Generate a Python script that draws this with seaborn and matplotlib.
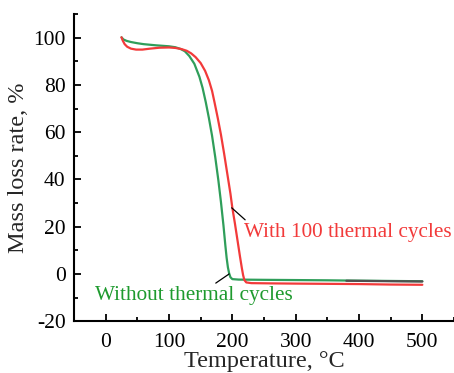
import numpy as np
import pandas as pd
import matplotlib.pyplot as plt
import seaborn as sns
from matplotlib.ticker import MultipleLocator

# Temperature (°C) and mass (%)
temp_plain = [25, 28, 33, 40, 50, 60, 80, 100, 110, 118, 125, 132, 140, 148, 153, 158, 163, 168,
              173, 178, 182, 186, 189, 191, 193, 195, 197, 200, 210, 250, 300, 350, 380, 420, 460, 500]
mass_plain = [100.2, 99.3, 98.7, 98.2, 97.7, 97.3, 96.8, 96.4, 96.0, 95.3, 94.3, 92.3, 89.0, 83.5, 78.8, 72.8, 66.0, 58.5,
              49.5, 39.5, 30.5, 20.5, 12.0, 6.8, 2.8, 0.2, -1.4, -2.2, -2.4, -2.5, -2.6, -2.7, -2.8, -2.9, -3.0, -3.1]

temp_cycled = [25, 27, 30, 34, 40, 48, 58, 70, 85, 100, 110, 120, 128, 135, 142, 150, 157, 163,
               168, 172, 177, 182, 187, 192, 197, 200, 204, 208, 212, 215, 217, 219, 222, 230, 260,
               300, 350, 400, 450, 500]
mass_cycled = [100.2, 98.8, 97.3, 96.2, 95.4, 95.0, 95.0, 95.4, 95.8, 95.9, 95.7, 95.2, 94.5, 93.4, 91.8, 89.3, 86.0, 82.0,
               77.5, 72.5, 66.0, 59.0, 51.0, 42.5, 34.0, 28.0, 21.5, 14.5, 7.5, 2.5, -0.5, -2.6, -3.6, -3.9, -4.0,
               -4.1, -4.2, -4.3, -4.5, -4.6]

# dark trace showing at the tail of the green curve
temp_tail = [380, 420, 460, 500]
mass_tail = [-2.9, -3.0, -3.1, -3.2]

green = '#2f9e5a'
red = '#f23a3a'

sns.set_style('ticks')
plt.rcParams['font.family'] = ['Liberation Serif', 'DejaVu Serif']
plt.rcParams['axes.unicode_minus'] = False

fig = plt.figure(figsize=(4.54, 3.73), dpi=100)
ax = fig.add_axes([0.163, 0.139, 0.837, 0.823])

df_plain = pd.DataFrame({'T': temp_plain, 'm': mass_plain})
df_cycled = pd.DataFrame({'T': temp_cycled, 'm': mass_cycled})
df_tail = pd.DataFrame({'T': temp_tail, 'm': mass_tail})

sns.lineplot(data=df_plain, x='T', y='m', color=green, lw=1.6, ax=ax)
sns.lineplot(data=df_tail, x='T', y='m', color='#505050', lw=1.6, ax=ax)
sns.lineplot(data=df_cycled, x='T', y='m', color=red, lw=1.6, ax=ax)

ax.set_xlim(-50, 550)
ax.set_ylim(-20, 110)
ax.xaxis.set_major_locator(MultipleLocator(100))
ax.xaxis.set_minor_locator(MultipleLocator(50))
ax.yaxis.set_major_locator(MultipleLocator(20))
ax.yaxis.set_minor_locator(MultipleLocator(10))
ax.tick_params(which='both', direction='in', width=1.3, colors='black', labelsize=15.5)
ax.tick_params(which='major', length=5)
ax.tick_params(which='minor', length=3)
ax.tick_params(axis='x', pad=8.5)
ax.tick_params(axis='y', pad=6)

for s in ['top', 'right']:
    ax.spines[s].set_visible(False)
for s in ['left', 'bottom']:
    ax.spines[s].set_linewidth(1.5)
    ax.spines[s].set_color('black')

ax.set_xlabel('Temperature, °C', fontsize=17.5, labelpad=-0.5)
ax.set_ylabel('Mass loss rate, %', fontsize=17.5, labelpad=3)

ax.annotate('With 100 thermal cycles', xy=(199, 28), xytext=(218, 17.5),
            color=red, fontsize=15.3, va='center', ha='left',
            arrowprops=dict(arrowstyle='-', color='black', lw=0.9, shrinkA=0, shrinkB=0,
                            relpos=(0.05, 0.75)))
ax.annotate('Without thermal cycles', xy=(195, 0), xytext=(-17, -9.3),
            color='#1e9a2e', fontsize=15.3, va='center', ha='left',
            arrowprops=dict(arrowstyle='-', color='black', lw=0.9, shrinkA=0, shrinkB=0,
                            relpos=(0.58, 0.95)))

fig.savefig('out.png', dpi=100)
